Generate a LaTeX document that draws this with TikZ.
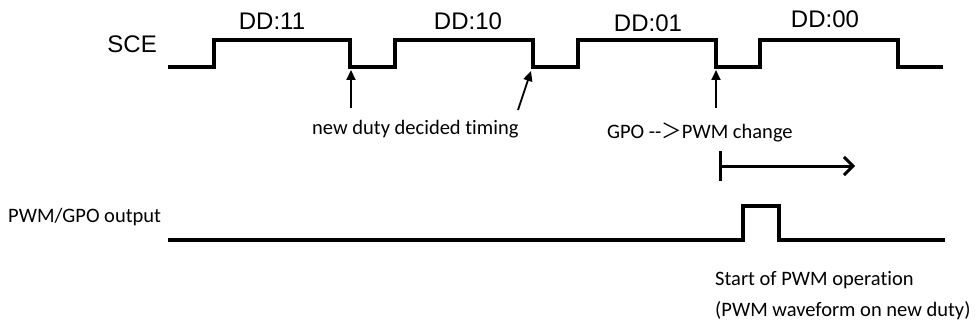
\documentclass[tikz,border=0pt]{standalone}
\usepackage{fontspec}
\setmainfont{Carlito}[Ligatures={NoCommon}]
\newfontfamily\arialf{Liberation Sans}
\newfontfamily\cjkf{Noto Sans CJK JP}
\usetikzlibrary{arrows.meta}
\begin{document}
\begin{tikzpicture}[x=1pt,y=-1pt,
  wave/.style={line width=3.6pt,line join=miter,line cap=butt},
  pwmwave/.style={line width=3.2pt,line join=miter,line cap=butt},
  uparrow/.style={line width=1.8pt,-{Triangle[length=10pt,width=9pt]}},
  rangearrow/.style={line width=3pt,{Bar[width=30pt,line width=3pt]}-{Straight Barb[length=9pt,width=18pt,line width=3pt]}},
  arlabel/.style={font=\arialf\fontsize{24}{28}\selectfont,inner sep=0pt},
  cblabel/.style={font=\fontsize{20.5}{24}\selectfont,inner sep=0pt,anchor=base west}]
\useasboundingbox (0,0) rectangle (978,329);
% SCE waveform
\draw[wave] (168,67) -- (214,67) -- (214,40) -- (350,40) -- (350,67) -- (395,67) -- (395,40)
  -- (533,40) -- (533,67) -- (578,67) -- (578,40) -- (716,40) -- (716,67) -- (760,67)
  -- (760,40) -- (898,40) -- (898,67) -- (943,67);
\node[arlabel,anchor=base east] (sce) at (157,53) {SCE};
\node[arlabel,anchor=base] (dd11) at (272,30) {DD:11};
\node[arlabel,anchor=base] (dd10) at (468,30) {DD:10};
\node[arlabel,anchor=base] (dd01) at (648,32) {DD:01};
\node[arlabel,anchor=base] (dd00) at (825,28) {DD:00};
% arrows
\coordinate (a1s) at (351,108); \coordinate (a1e) at (351,70);
\coordinate (a2s) at (518,110); \coordinate (a2e) at (531,71);
\coordinate (a3s) at (716,108); \coordinate (a3e) at (716,70);
\draw[uparrow] (a1s) -- (a1e);
\draw[uparrow] (a2s) -- (a2e);
\draw[uparrow] (a3s) -- (a3e);
\node[cblabel] (ndt) at (312,135) {new duty decided timing};
\node[cblabel] (gpo) at (607,138) {GPO -{}-{\cjkf ＞}PWM change};
% range arrow
\coordinate (rs) at (719,166); \coordinate (re) at (855,166);
\draw[rangearrow] (rs) -- (re);
% PWM output
\node[cblabel] (pwmlab) at (8,222) {PWM/GPO output};
\draw[pwmwave] (168,240) -- (743,240) -- (743,206) -- (779,206) -- (779,240) -- (945,240);
\node[cblabel] (start) at (715,285) {Start of PWM operation};
\node[cblabel] (wave) at (715,316) {(PWM waveform on new duty)};
\end{tikzpicture}
\end{document}
